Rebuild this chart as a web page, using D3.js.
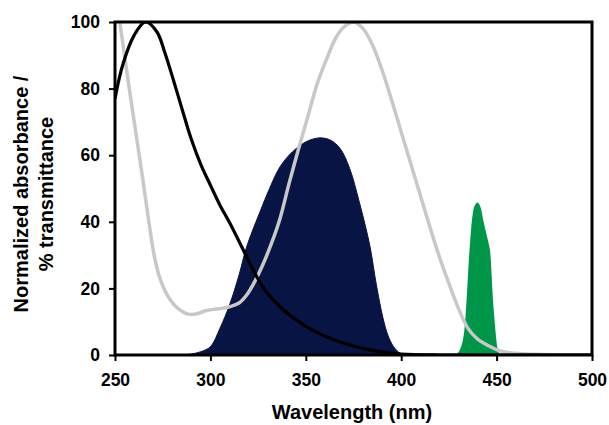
<!DOCTYPE html>
<html>
<head>
<meta charset="utf-8">
<script src="https://cdn.jsdelivr.net/npm/d3@7"></script>
<style>
  body { margin: 0; background: #fff; }
  svg text { font-family: "Liberation Sans", Arial, sans-serif; font-weight: bold; fill: #000; }
</style>
</head>
<body>
<div id="chart"></div>
<script>
// absorbance (black line)
var absWl  = [250, 254, 260, 266, 272, 276, 280.6, 285.8, 290, 295, 300, 305, 310.3, 319, 324.3, 330, 336.5, 345, 354, 362, 371, 380, 389, 400, 420, 500];
var absVal = [77, 87, 96, 100, 97, 91, 82.6, 72.6, 64.8, 57.2, 51, 45, 39.5, 29.5, 23.5, 18.5, 14.5, 10.5, 7.3, 5.2, 3.4, 2, 1, 0.3, 0, 0];

// % transmittance (grey line)
var trWl  = [252.5, 258, 264, 268, 270.5, 273, 276, 279, 282, 286, 289, 293, 297, 301.5, 306, 310, 315, 319, 323, 327, 332, 336.5, 341, 346, 351, 356, 361, 366, 370, 375, 380, 385, 390, 395, 400, 405, 410, 415, 420, 425, 430, 435, 440, 445, 452, 460, 470, 490, 500];
var trVal = [100, 78, 55, 39, 30, 24, 19.5, 16.5, 14.5, 12.8, 12.2, 12.4, 13.2, 13.7, 14, 14.5, 15.6, 18, 21.8, 26.5, 33.5, 41, 51, 61.5, 71.5, 81.5, 89, 95.5, 98.5, 100, 98, 93, 85.5, 76.5, 67, 57.5, 48, 38.5, 29.5, 21.5, 14, 8, 4.8, 3, 1.2, 0.5, 0.2, 0, 0];

// emission 1 (navy fill)
var em1Wl  = [250, 285, 290, 295, 300, 305, 310, 315, 319, 326, 331, 336.5, 343, 350, 357, 363, 368, 373, 378, 383.5, 387, 390.5, 393, 396, 399.5, 402];
var em1Val = [0, 0, 0.3, 1, 2.5, 8, 15, 24, 32.5, 43, 50, 56.5, 61, 64, 65.2, 64.5, 62, 56, 46, 33, 21, 11, 6, 2.5, 0.5, 0];

// emission 2 (green fill)
var em2Wl  = [428, 430, 431.7, 433, 434.3, 435.2, 436, 437.4, 438.5, 440, 441.5, 443, 445, 446.5, 447.3, 448, 449, 449.7, 450.5, 451.5, 452.5];
var em2Val = [0, 0.8, 3, 7, 17, 26, 33, 42, 44.8, 45.8, 44.5, 40.5, 35.5, 31.5, 25, 17.5, 10, 5.5, 2, 0.3, 0];

var xTicks = [250, 300, 350, 400, 450, 500];
var yTicks = [0, 20, 40, 60, 80, 100];

var W = 609, H = 425;
var m = {left: 115, top: 22, right: 17, bottom: 70};
var w = W - m.left - m.right;
var h = H - m.top - m.bottom;

var x = d3.scaleLinear().domain([250, 500]).range([0, w]);
var y = d3.scaleLinear().domain([0, 100]).range([h, 0]);

var svg = d3.select('#chart')
  .append('svg')
  .attr('width', W)
  .attr('height', H);

svg.append('defs').append('clipPath')
  .attr('id', 'clip')
  .append('rect')
  .attr('width', w)
  .attr('height', h);

var g = svg.append('g')
  .attr('transform', 'translate(' + m.left + ',' + m.top + ')');

function pts(wl, val) {
  return wl.map(function(d, i) { return [d, val[i]]; });
}

var curve = d3.curveCatmullRom.alpha(0.5);

var line = d3.line()
  .x(function(d) { return x(d[0]); })
  .y(function(d) { return y(d[1]); })
  .curve(curve);

var area = d3.area()
  .x(function(d) { return x(d[0]); })
  .y0(y(0))
  .y1(function(d) { return y(d[1]); })
  .curve(curve);

var plot = g.append('g').attr('clip-path', 'url(#clip)');

plot.append('path')
  .datum(pts(em1Wl, em1Val))
  .attr('d', area)
  .attr('fill', '#081444')
  .attr('stroke', '#081444')
  .attr('stroke-width', 1);

plot.append('path')
  .datum(pts(em2Wl, em2Val))
  .attr('d', area)
  .attr('fill', '#00964a');

plot.append('path')
  .datum(pts(trWl, trVal))
  .attr('d', line)
  .attr('fill', 'none')
  .attr('stroke', '#c8c8c8')
  .attr('stroke-width', 3.5);

plot.append('path')
  .datum(pts(absWl, absVal))
  .attr('d', line)
  .attr('fill', 'none')
  .attr('stroke', '#000')
  .attr('stroke-width', 3.2);

// axes
var xAxis = g.append('g')
  .attr('transform', 'translate(0,' + h + ')')
  .call(d3.axisBottom(x).tickValues(xTicks).tickSize(6).tickPadding(13));

var yAxis = g.append('g')
  .call(d3.axisLeft(y).tickValues(yTicks).tickSize(6).tickPadding(9));

[xAxis, yAxis].forEach(function(a) {
  a.select('.domain').remove();
  a.selectAll('.tick line').attr('stroke', '#000').attr('stroke-width', 2);
  a.selectAll('.tick text')
    .style('font-size', '17.5px')
    .style('font-family', '"Liberation Sans", Arial, sans-serif')
    .style('font-weight', 'bold')
    .attr('fill', '#000');
});

// plot frame
g.append('rect')
  .attr('width', w)
  .attr('height', h)
  .attr('fill', 'none')
  .attr('stroke', '#000')
  .attr('stroke-width', 3);

// titles
svg.append('text')
  .attr('x', 352)
  .attr('y', 419)
  .attr('text-anchor', 'middle')
  .style('font-size', '20px')
  .text('Wavelength (nm)');

var yt = svg.append('text')
  .attr('transform', 'translate(28,194) rotate(-90)')
  .attr('text-anchor', 'middle')
  .style('font-size', '20px');
yt.append('tspan').attr('x', 0).attr('dy', 0).text('Normalized absorbance /');
yt.append('tspan').attr('x', 0).attr('dy', 25).text('% transmittance');
</script>
</body>
</html>
